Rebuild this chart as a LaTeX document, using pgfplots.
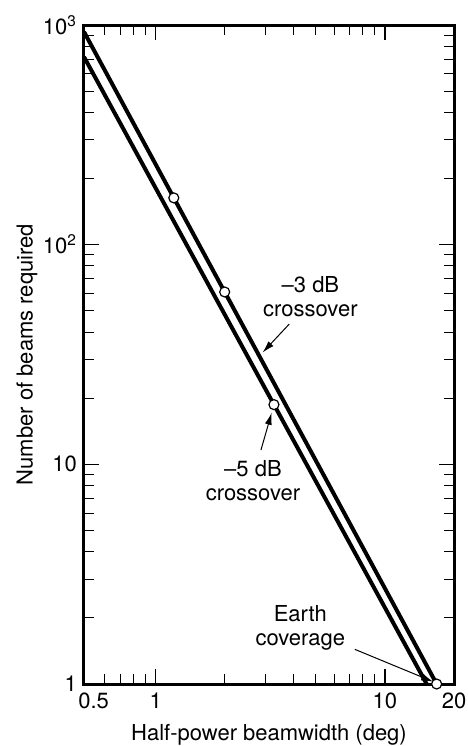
\documentclass[border=0pt]{standalone}
\usepackage{fontspec}
\setmainfont{TeX Gyre Heros}
\usepackage{pgfplots}
\pgfplotsset{compat=1.18}
\usetikzlibrary{arrows.meta}
\begin{document}
\begin{tikzpicture}
\useasboundingbox (-42pt,-31pt) rectangle (191.5pt,342pt);
\begin{axis}[
  at={(0,0)}, anchor=south west,
  scale only axis, width=185pt, height=329.5pt,
  xmode=log, ymode=log,
  xmin=0.487, xmax=20, ymin=1, ymax=1000,
  clip=false,
  font=\fontsize{11}{12}\selectfont,
  axis line style={line width=1.5pt},
  tick align=inside,
  major tick length=7.5pt, minor tick length=5pt,
  every major tick/.style={line width=0.7pt, black},
  every minor tick/.style={line width=0.5pt, black},
  xtick={1,10,20}, xticklabels={1,10,20},
  extra x ticks={0.5}, extra x tick labels={\hspace*{7pt}0.5},
  extra x tick style={major tick length=0pt},
  minor xtick={0.6,0.7,0.8,0.9,2,3,4,5,6,7,8,9},
  ytick={1,10,100,1000},
  yticklabels={1,10,10\textsuperscript{2},10\textsuperscript{3}},
  minor ytick={2,3,4,5,6,7,8,9,20,30,40,50,60,70,80,90,200,300,400,500,600,700,800,900},
  xticklabel style={yshift=-1pt},
  xlabel={Half-power beamwidth (deg)},
  ylabel={Number of beams required},
  xlabel style={at={(axis description cs:0.5,-0.0774)}, anchor=center},
  ylabel style={at={(axis description cs:-0.154,0.5)}, anchor=center},
]
% -3 dB crossover
\addplot[black, line width=2pt] coordinates {(0.487,931) (1.2,163.3) (2.0,60.9) (16.8,1)};
% -5 dB crossover
\addplot[black, line width=2pt] coordinates {(0.487,716) (3.28,18.7) (15.2,1)};
% circles
\addplot[only marks, mark=*, mark size=2.5pt, mark options={fill=white, draw=black, line width=0.6pt}]
  coordinates {(1.2,163.3) (2.0,60.9) (3.28,18.7) (16.8,1)};

\node[align=center, inner sep=0pt] at (axis cs:4.73,57.9) {–3 dB\\crossover};
\draw[-{Latex[length=6pt,width=3.5pt]}, line width=0.5pt] (axis cs:3.825,43.5) -- (axis cs:2.928,32.3);

\node[align=center, inner sep=0pt] at (axis cs:2.657,8.41) {–5 dB\\crossover};
\draw[-{Latex[length=6pt,width=3.5pt]}, line width=0.5pt] (axis cs:2.879,11.62) -- (axis cs:3.205,17.17);

\node[align=center, inner sep=0pt] at (axis cs:4.276,1.793) {Earth\\coverage};
\draw[-{Latex[length=6pt,width=3.5pt]}, line width=0.5pt] (axis cs:7.39,1.438) -- (axis cs:16.24,1.024);
\end{axis}
\end{tikzpicture}
\end{document}
